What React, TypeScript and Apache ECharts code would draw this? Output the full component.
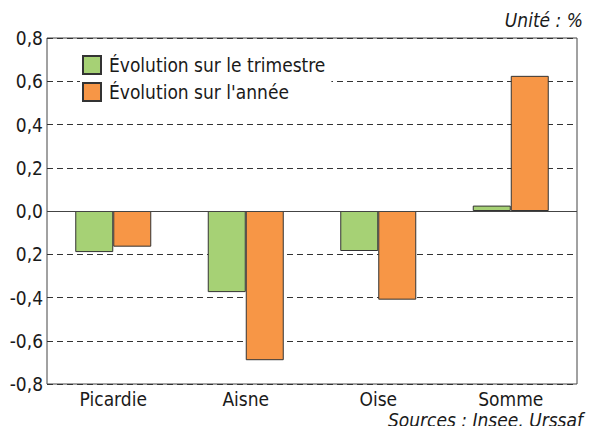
import React, { useEffect, useRef } from "react";
import * as echarts from "echarts";

const categories = ["Picardie", "Aisne", "Oise", "Somme"];
const trimestre = [-0.19, -0.375, -0.185, 0.025];
const annee = [-0.165, -0.69, -0.41, 0.625];
const seriesNames = ["Évolution sur le trimestre", "Évolution sur l'année"];
const yTickValues = [-0.8, -0.6, -0.4, -0.2, 0, 0.2, 0.4, 0.6, 0.8];
const yTickLabels = ["-0,8", "-0,6", "-0,4", "0,2", "0,0", "0,2", "0,4", "0,6", "0,8"];

const FONT = "'DejaVu Sans Condensed', 'Liberation Sans Narrow', sans-serif";

export default function App() {
  const ref = useRef<HTMLDivElement>(null);
  useEffect(() => {
    if (!ref.current) return;
    const chart = echarts.init(ref.current, null, { renderer: "svg" });
    chart.setOption({
      animation: false,
      textStyle: { fontFamily: FONT },
      grid: {
        left: 47,
        right: 20,
        top: 38,
        bottom: 50,
        show: true,
        borderColor: "#444",
        borderWidth: 1,
        backgroundColor: "transparent",
      },
      legend: {
        orient: "vertical",
        left: 80,
        top: 53,
        icon: "rect",
        itemWidth: 18,
        itemHeight: 18,
        itemGap: 7,
        padding: [2, 6, 2, 2],
        backgroundColor: "#fff",
        textStyle: { fontSize: 19, color: "#1a1a1a", fontFamily: FONT, padding: [0, 0, 0, 3] },
        data: seriesNames,
      },
      xAxis: {
        type: "category",
        data: categories,
        axisLine: { onZero: false, show: false },
        axisTick: { show: false },
        axisLabel: { fontSize: 19, color: "#1a1a1a", margin: 5, fontFamily: FONT },
      },
      yAxis: {
        type: "value",
        min: -0.8,
        max: 0.8,
        interval: 0.2,
        axisLine: { show: false },
        axisTick: { show: false },
        axisLabel: {
          fontSize: 19,
          color: "#1a1a1a",
          margin: 4,
          fontFamily: FONT,
          formatter: (v: number) => {
            const i = yTickValues.findIndex((t) => Math.abs(t - v) < 1e-6);
            return i >= 0 ? yTickLabels[i] : "";
          },
        },
        splitLine: {
          show: true,
          lineStyle: { color: "#333", type: [6, 4], width: 1 },
        },
      },
      series: [
        {
          name: seriesNames[0],
          type: "bar",
          data: trimestre,
          barWidth: 38,
          barGap: "0%",
          itemStyle: { color: "#a6d175", borderColor: "#333", borderWidth: 1 },
          markLine: {
            silent: true,
            symbol: "none",
            label: { show: false },
            lineStyle: { color: "#444", type: "solid", width: 1 },
            data: [{ yAxis: 0 }],
          },
          z: 3,
        },
        {
          name: seriesNames[1],
          type: "bar",
          data: annee,
          barWidth: 38,
          barGap: "0%",
          itemStyle: { color: "#f79646", borderColor: "#333", borderWidth: 1 },
          z: 3,
        },
      ],
      graphic: [
        {
          type: "text",
          x: 583,
          y: 20,
          style: {
            text: "Unité : %",
            fill: "#1a1a1a",
            font: `italic 19px ${FONT}`,
            align: "right",
            verticalAlign: "middle",
          },
        },
        {
          type: "text",
          x: 583,
          y: 420,
          style: {
            text: "Sources : Insee, Urssaf",
            fill: "#1a1a1a",
            font: `italic 19px ${FONT}`,
            align: "right",
            verticalAlign: "middle",
          },
        },
      ],
    });
    return () => chart.dispose();
  }, []);
  return <div ref={ref} style={{ width: 597, height: 434, margin: -8 }} />;
}
